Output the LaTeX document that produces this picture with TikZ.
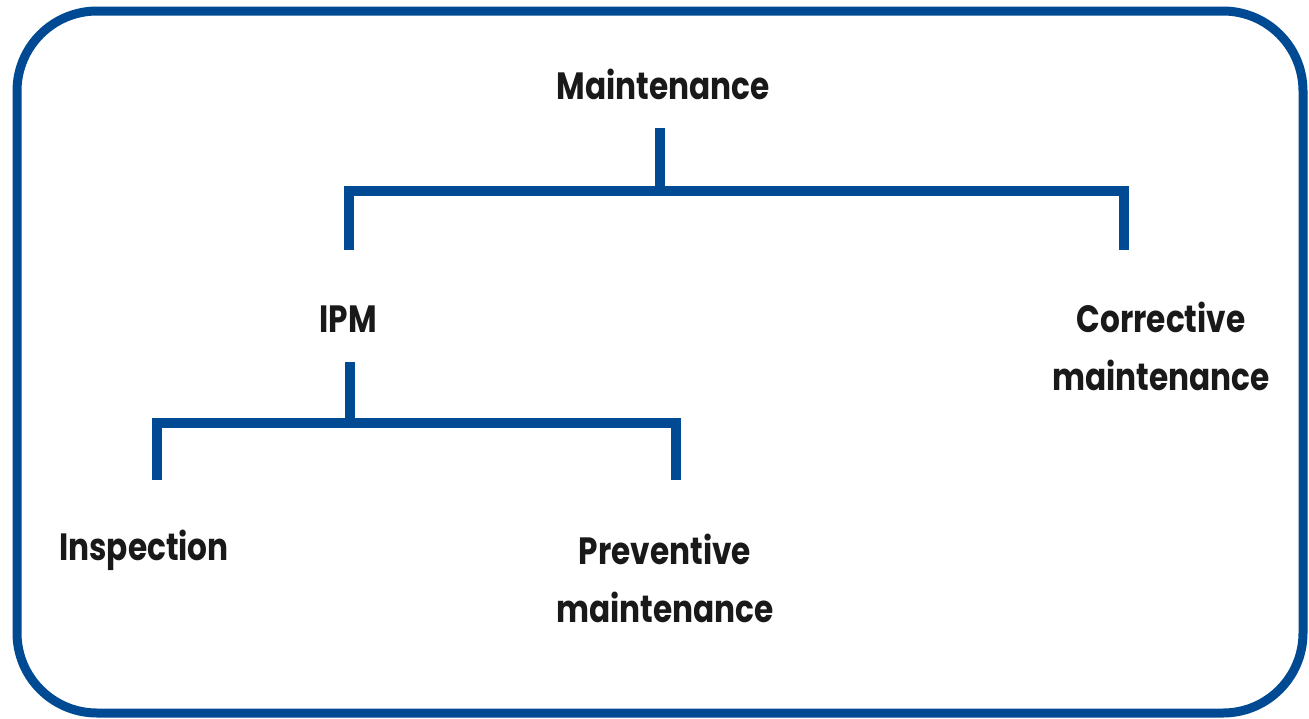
\documentclass[tikz,border=0pt]{standalone}
\usepackage{fontspec}
\setmainfont{Poppins}[BoldFont={* Bold},FakeStretch=0.82]
\definecolor{treeblue}{RGB}{0,74,148}
\begin{document}
\begin{tikzpicture}[x=1pt,y=-1pt,
  lbl/.style={font=\fontsize{38}{58}\selectfont\bfseries, text=black!90, align=center, inner sep=0pt},
  branch/.style={draw=treeblue, line width=10pt},
  frame/.style={draw=treeblue, line width=9pt, rounded corners=80pt}]
\useasboundingbox (0,0) rectangle (1309,718);
\draw[frame] (17,11) rectangle (1303,713);
\node[lbl] (maint) at (663,84) {Maintenance};
\node[lbl] (ipm) at (348,319) {IPM};
\node[lbl] (corr) at (1161,346) {Corrective\\maintenance};
\node[lbl] (insp) at (144,550) {Inspection};
\node[lbl] (prev) at (665,578) {Preventive\\maintenance};
\coordinate (m1) at (660,128);
\coordinate (m2) at (660,191);
\coordinate (mL) at (349,191);
\coordinate (mR) at (1124,191);
\coordinate (mLb) at (349,250);
\coordinate (mRb) at (1124,250);
\draw[branch] (m1) -- (m2);
\draw[branch] (mLb) -- (mL) -- (mR) -- (mRb);
\coordinate (i1) at (350,362);
\coordinate (i2) at (350,423);
\coordinate (iL) at (157,423);
\coordinate (iR) at (676,423);
\coordinate (iLb) at (157,480);
\coordinate (iRb) at (676,480);
\draw[branch] (i1) -- (i2);
\draw[branch] (iLb) -- (iL) -- (iR) -- (iRb);
\end{tikzpicture}
\end{document}
